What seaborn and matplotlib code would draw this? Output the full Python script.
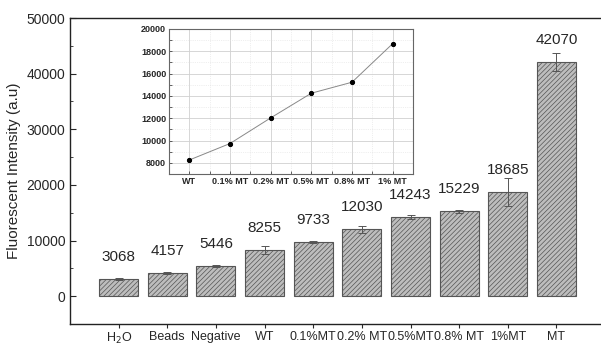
import numpy as np
import pandas as pd
import matplotlib
matplotlib.use("Agg")
import matplotlib.pyplot as plt
import seaborn as sns
from matplotlib.ticker import MultipleLocator

# datos principales
categorias = ["H$_2$O", "Beads", "Negative", "WT", "0.1%MT", "0.2% MT",
              "0.5%MT", "0.8% MT", "1%MT", "MT"]
valores = [3068, 4157, 5446, 8255, 9733, 12030, 14243, 15229, 18685, 42070]
errores = [120, 220, 200, 700, 200, 600, 300, 300, 2500, 1550]

# datos del inset
inset_cats = ["WT", "0.1% MT", "0.2% MT", "0.5% MT", "0.8% MT", "1% MT"]
inset_vals = [8255, 9733, 12030, 14243, 15229, 18685]

sns.set_style("white")
plt.rcParams["font.family"] = ["Liberation Sans", "DejaVu Sans"]
plt.rcParams["hatch.color"] = "#4a4a4a"
plt.rcParams["hatch.linewidth"] = 0.5

fig = plt.figure(figsize=(6.01, 3.48), dpi=100)
ax = fig.add_axes([70 / 601, 24 / 348, 540 / 601, 306 / 348])

df = pd.DataFrame({"cat": categorias, "val": valores, "err": errores})
sns.barplot(data=df, x="cat", y="val", color="#bdbdbd", width=0.8,
            edgecolor="#555555", linewidth=0.8, hatch="///////",
            errorbar=None, ax=ax, saturation=1)
ax.errorbar(np.arange(len(valores)), valores, yerr=errores, fmt="none",
            ecolor="#555555", elinewidth=0.7, capsize=3, capthick=0.7)

for i, v in enumerate(valores):
    ax.annotate(str(v), (i, v), xytext=(0, 11), textcoords="offset points",
                ha="center", va="bottom", fontsize=11)

ax.set_xlim(-1, 10.1)
ax.set_ylim(-5000, 50000)
ax.yaxis.set_major_locator(MultipleLocator(10000))
ax.yaxis.set_minor_locator(MultipleLocator(5000))
ax.tick_params(axis="y", which="both", direction="in", left=True, labelsize=10)
ax.tick_params(axis="y", which="major", length=4)
ax.tick_params(axis="y", which="minor", length=2.5)
ax.tick_params(axis="x", direction="out", bottom=True, length=3, labelsize=9, pad=2)
ax.set_xlabel("")
ax.set_ylabel("Fluorescent Intensity (a.u)", fontsize=11)
ax.spines["right"].set_visible(False)
for s in ["left", "top", "bottom"]:
    ax.spines[s].set_color("#222222")
    ax.spines[s].set_linewidth(1.0)

# inset
axi = fig.add_axes([169 / 601, (348 - 174) / 348, 244 / 601, 145 / 348])
sns.lineplot(x=np.arange(len(inset_vals)), y=inset_vals, ax=axi, color="#888888",
             linewidth=0.7, marker="o", markersize=3, markerfacecolor="black",
             markeredgecolor="black")
axi.set_xlim(-0.5, 5.5)
axi.set_ylim(7000, 20000)
axi.set_xticks(np.arange(len(inset_cats)))
axi.set_xticklabels(inset_cats, fontweight="bold", fontsize=6.5)
axi.xaxis.set_minor_locator(MultipleLocator(0.5))
axi.set_yticks([8000, 10000, 12000, 14000, 16000, 18000, 20000])
axi.yaxis.set_minor_locator(MultipleLocator(1000))
for lbl in axi.get_yticklabels():
    lbl.set_fontweight("bold")
    lbl.set_fontsize(6.5)
axi.tick_params(which="both", direction="in", length=2, width=0.5, bottom=True, left=True, pad=2)
axi.grid(which="major", color="#d0d0d0", linewidth=0.6)
axi.grid(which="minor", color="#e0e0e0", linewidth=0.5, linestyle=":")
axi.set_axisbelow(True)
for s in axi.spines.values():
    s.set_color("#666666")
    s.set_linewidth(0.8)

fig.savefig("out.png", dpi=100)
